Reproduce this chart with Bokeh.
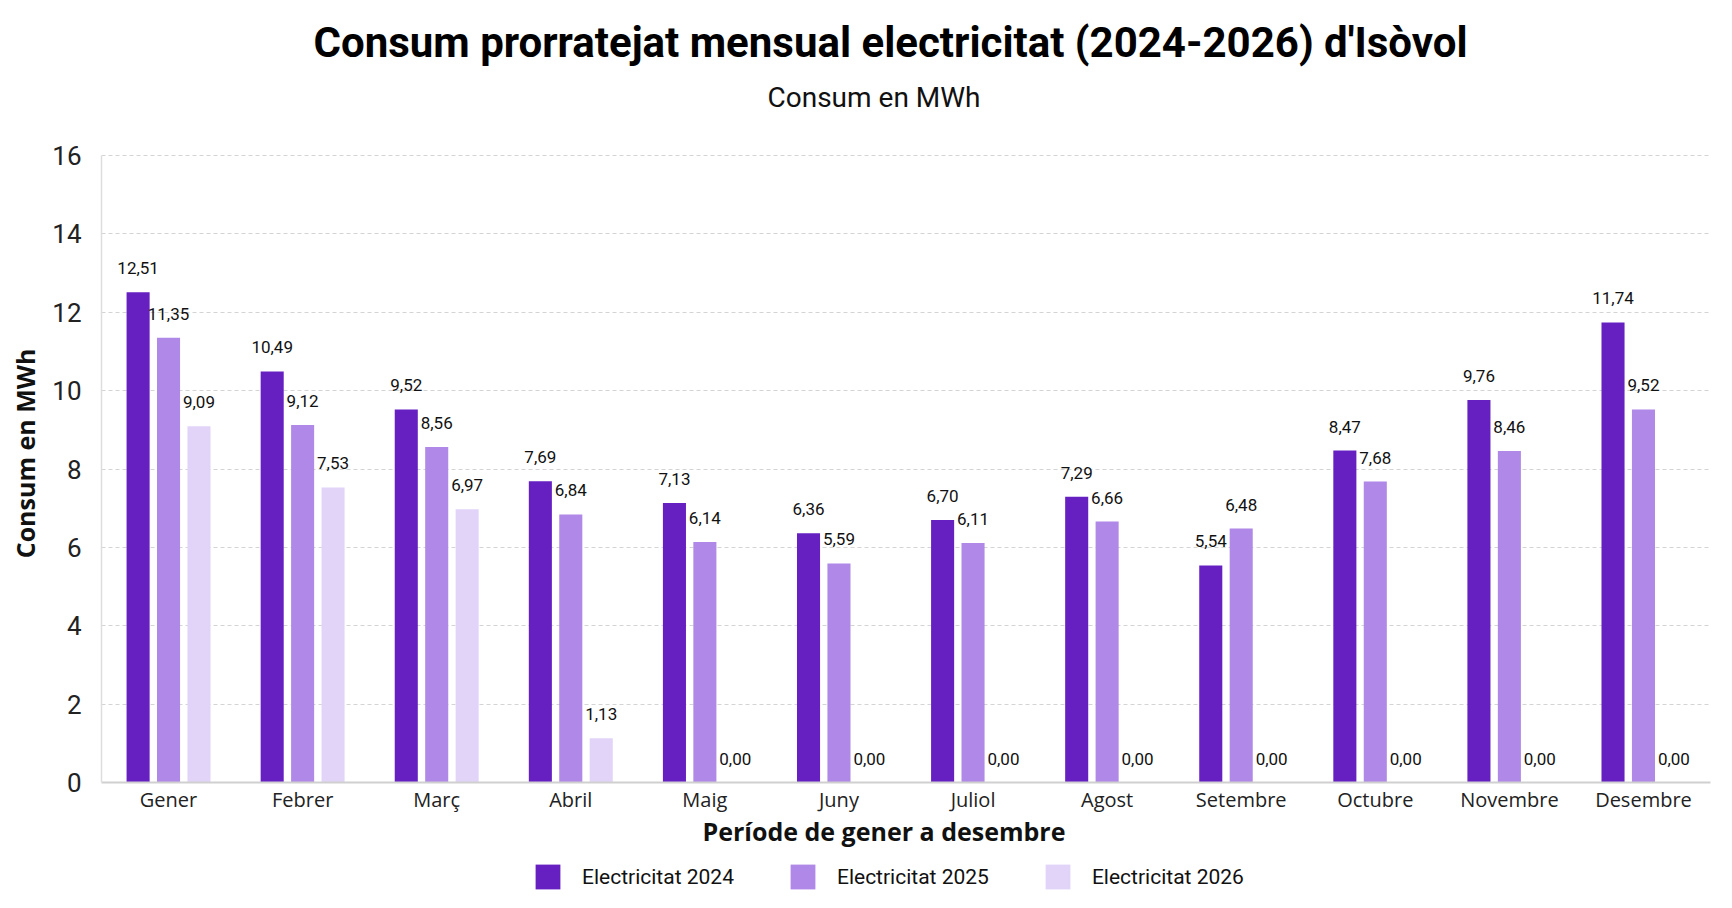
from bokeh.plotting import figure
from bokeh.layouts import column
from bokeh.models import ColumnDataSource, FactorRange, Range1d, Legend, LegendItem, Title, FixedTicker
from bokeh.transform import dodge
from bokeh.core.properties import value
from bokeh.embed import file_html
from bokeh.resources import INLINE

months = ["Gener", "Febrer", "Març", "Abril", "Maig", "Juny", "Juliol",
          "Agost", "Setembre", "Octubre", "Novembre", "Desembre"]
e2024 = [12.51, 10.49, 9.52, 7.69, 7.13, 6.36, 6.70, 7.29, 5.54, 8.47, 9.76, 11.74]
e2025 = [11.35, 9.12, 8.56, 6.84, 6.14, 5.59, 6.11, 6.66, 6.48, 7.68, 8.46, 9.52]
e2026 = [9.09, 7.53, 6.97, 1.13, 0.00, 0.00, 0.00, 0.00, 0.00, 0.00, 0.00, 0.00]
series_names = ["Electricitat 2024", "Electricitat 2025", "Electricitat 2026"]
colors = ["#6620c2", "#b088e7", "#e2d4f9"]
y_ticks = [0, 2, 4, 6, 8, 10, 12, 14, 16]

title_text = "Consum prorratejat mensual electricitat (2024-2026) d'Isòvol"
subtitle_text = "Consum en MWh"
x_title = "Període de gener a desembre"
y_title = "Consum en MWh"

NARROW = "Roboto"
BODY = "Open Sans"

def fmt(v):
    return f"{v:.2f}".replace(".", ",")

series = [e2024, e2025, e2026]
data = {"month": months}
for i, s in enumerate(series):
    data[f"v{i}"] = s
    data[f"t{i}"] = [fmt(v) for v in s]
src = ColumnDataSource(data)

# frame: x 101..1710, y(16)=155, y(0)=782 ; a little headroom above 16 for the titles
y_top = y_ticks[-1] + 31 / (627 / 16)
p = figure(width=1732, height=860, x_range=FactorRange(*months), y_range=Range1d(0, y_top),
           output_backend="svg", toolbar_location=None, title=None,
           min_border_left=101, min_border_right=22, min_border_top=124, min_border_bottom=78)

offsets = [-0.227, 0.0, 0.227]
renderers = []
for i in range(3):
    r = p.vbar(x=dodge("month", offsets[i], range=p.x_range), top=f"v{i}", width=0.172,
               source=src, fill_color=colors[i], line_color=None)
    renderers.append(r)
    p.text(x=dodge("month", offsets[i], range=p.x_range), y=f"v{i}", text=f"t{i}", source=src,
           text_align="center", text_baseline="alphabetic", y_offset=-24,
           text_font=value(NARROW), text_font_size="17px", text_color="#111111")

# titles (subtitle first = closest to frame)
p.add_layout(Title(text=subtitle_text, align="left", offset=666, text_font=NARROW, text_font_size="28px",
                   text_font_style="normal", text_color="#111111", standoff=22), "above")
p.add_layout(Title(text=title_text, align="left", offset=212, text_font=NARROW, text_font_size="42px",
                   text_font_style="bold", text_color="#000000", standoff=2), "above")

# axes
p.yaxis.ticker = FixedTicker(ticks=y_ticks)
p.yaxis.bounds = (y_ticks[0], y_ticks[-1])
p.yaxis.major_label_text_font = NARROW
p.yaxis.major_label_text_font_size = "26px"
p.yaxis.major_label_text_color = "#222222"
p.yaxis.major_label_standoff = 20
p.yaxis.major_tick_out = 0
p.yaxis.major_tick_in = 0
p.yaxis.major_tick_line_color = None
p.yaxis.minor_tick_line_color = None
p.yaxis.axis_line_color = "#dddddd"
p.yaxis.axis_line_width = 1.5
p.yaxis.axis_label = y_title
p.yaxis.axis_label_text_font = BODY
p.yaxis.axis_label_text_font_size = "25px"
p.yaxis.axis_label_text_font_style = "bold"
p.yaxis.axis_label_text_color = "#111111"
p.yaxis.axis_label_standoff = 7

p.xaxis.major_label_text_font = BODY
p.xaxis.major_label_text_font_size = "20px"
p.xaxis.major_label_text_color = "#222222"
p.xaxis.major_label_standoff = 3
p.xaxis.major_tick_out = 0
p.xaxis.major_tick_in = 0
p.xaxis.major_tick_line_color = None
p.xaxis.axis_line_color = "#d0d0d0"
p.xaxis.axis_line_width = 2

p.add_layout(Title(text=x_title, align="left", offset=601, text_font=BODY, text_font_size="25px",
                   text_font_style="bold", text_color="#111111", standoff=-8), "below")

p.xgrid.grid_line_color = None
p.ygrid.grid_line_color = "#d4d4d4"
p.ygrid.grid_line_dash = "4 3"
p.ygrid.grid_line_width = 1
p.outline_line_color = None

# legend strip under the chart (swatch renderers: zero-size bars from the same data, out of view)
p2 = figure(width=1732, height=48, x_range=FactorRange(*months), y_range=Range1d(-200, -199),
            x_axis_type=None, y_axis_type=None, output_backend="svg", toolbar_location=None,
            min_border=0, outline_line_color=None)
p2.grid.visible = False
swatches = [p2.vbar(x="month", bottom=f"v{i}", top=f"v{i}", width=0.0, source=src,
                    fill_color=colors[i], line_color=None) for i in range(3)]
legend = Legend(items=[LegendItem(label=series_names[i], renderers=[swatches[i]]) for i in range(3)],
                orientation="horizontal", location=(431, 16), ncols=3,
                glyph_width=31, glyph_height=31, label_standoff=19, spacing=53,
                label_text_font=NARROW, label_text_font_size="21px", label_text_color="#111111",
                border_line_color=None, background_fill_alpha=0, padding=0, margin=0)
p2.add_layout(legend, "center")

root = column(p, p2, spacing=0)
open("out.html", "w").write(file_html(root, INLINE))
